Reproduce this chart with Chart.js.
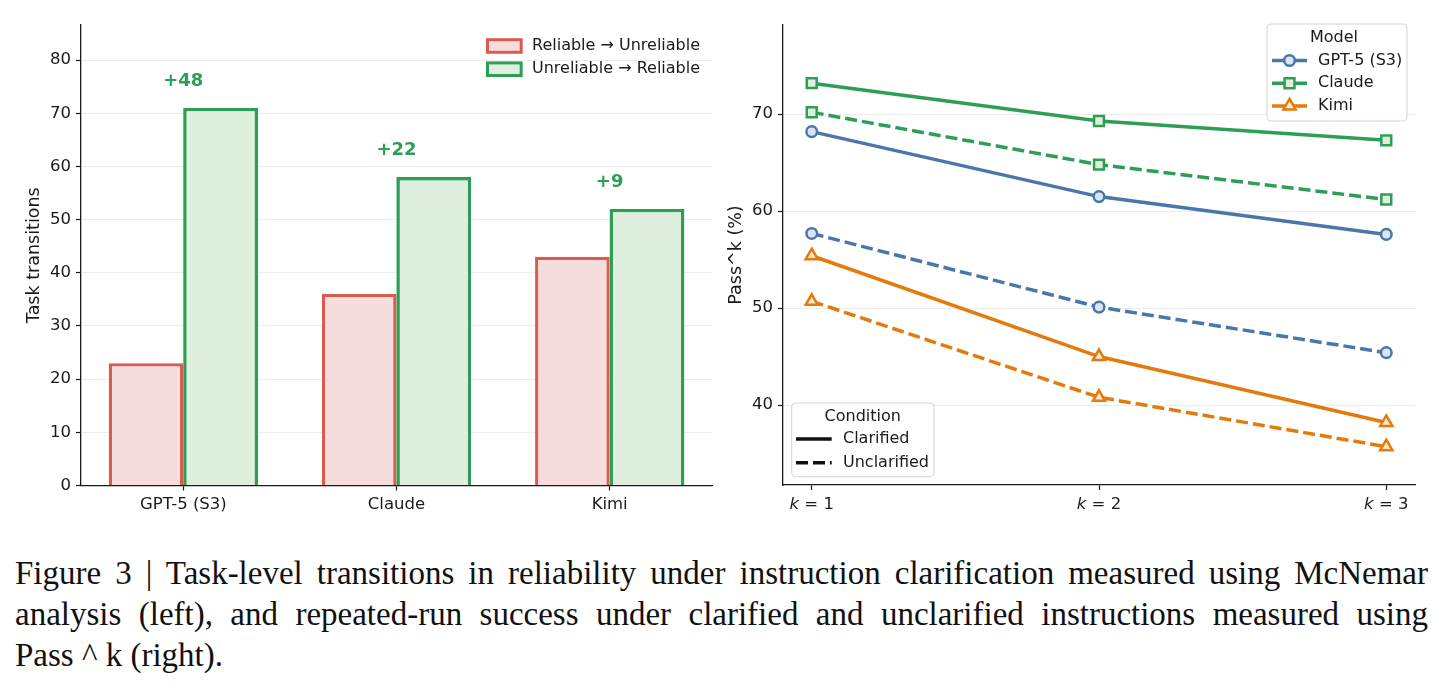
<!DOCTYPE html>
<html>
<head>
<meta charset="utf-8">
<script src="https://cdn.jsdelivr.net/npm/chart.js@4.4.0/dist/chart.umd.min.js"></script>
<style>
  body { margin: 0; background: #fff; width: 1443px; height: 688px; overflow: hidden; position: relative; }
  #leftChart { position: absolute; left: 0; top: 0; }
  #rightChart { position: absolute; left: 720px; top: 0; }
  #caption { position: absolute; left: 15px; top: 553px; width: 1413px; font-family: 'Liberation Serif', serif; font-size: 33px; line-height: 41px; color: #111; }
  #caption div { text-align: justify; text-align-last: justify; }
  #caption div.last { text-align-last: left; }
</style>
</head>
<body>
<canvas id="leftChart" width="720" height="530"></canvas>
<canvas id="rightChart" width="723" height="530"></canvas>
<div id="caption">
  <div>Figure 3 | Task-level transitions in reliability under instruction clarification measured using McNemar</div>
  <div>analysis (left), and repeated-run success under clarified and unclarified instructions measured using</div>
  <div class="last">Pass ^ k (right).</div>
</div>
<script>
/////////////////////////////// Data ///////////////////////////////

// Left panel: McNemar transitions
const categories = ['GPT-5 (S3)', 'Claude', 'Kimi'];
const reliableToUnreliable = [23, 36, 43];
const unreliableToReliable = [71, 58, 52];

// Right panel: Pass^k
const kLabels = ['1', '2', '3'];
const gptClarified = [68.2, 61.5, 57.6];
const gptUnclarified = [57.7, 50.1, 45.4];
const claudeClarified = [73.2, 69.3, 67.3];
const claudeUnclarified = [70.2, 64.8, 61.2];
const kimiClarified = [55.4, 45.0, 38.2];
const kimiUnclarified = [50.7, 40.8, 35.7];

/////////////////////////////// Style ///////////////////////////////

const FONT = '"DejaVu Sans", sans-serif';
const INK = '#1a1a1a';
const TICK = 16.5;
const RED = '#d85d4f', RED_FILL = '#f6dcdc';
const GREEN = '#2e9e57', GREEN_FILL = '#def0dd';
const BLUE = '#4a77ab', BLUE_FILL = '#dbe5f1';
const ORANGE = '#e47a0b', ORANGE_FILL = '#fce8d4';

// turn a list of values into {x, y} points at 0, 1, 2...
let series = (values) => values.map((v, i) => ({ x: i, y: v }));

// draws a marker the same way for the legend
function drawMarker(ctx, shape, x, y, r, stroke, fill) {
    ctx.save();
    ctx.beginPath();
    if (shape === 'circle') {
        ctx.arc(x, y, r, 0, Math.PI * 2);
    } else if (shape === 'rect') {
        const h = r * Math.SQRT1_2;
        ctx.rect(x - h, y - h, 2 * h, 2 * h);
    } else {
        ctx.moveTo(x, y - r);
        ctx.lineTo(x + r * 0.866, y + r / 2);
        ctx.lineTo(x - r * 0.866, y + r / 2);
        ctx.closePath();
    }
    ctx.fillStyle = fill;
    ctx.fill();
    ctx.lineWidth = 2.5;
    ctx.strokeStyle = stroke;
    ctx.setLineDash([]);
    ctx.stroke();
    ctx.restore();
}

function roundBox(ctx, x, y, w, h, r) {
    ctx.beginPath();
    ctx.roundRect(x, y, w, h, r);
    ctx.fillStyle = 'rgba(255,255,255,0.85)';
    ctx.fill();
    ctx.lineWidth = 1;
    ctx.strokeStyle = '#d4d4d4';
    ctx.stroke();
}

/////////////////////////////// Left chart ///////////////////////////////

const leftExtras = {
    id: 'leftExtras',
    afterDatasetsDraw(chart) {
        const ctx = chart.ctx;
        // green bars drawn again so their edge sits on top of the red ones
        chart.getDatasetMeta(1).controller.draw();

        const xs = chart.scales.x, ys = chart.scales.y;
        ctx.save();
        ctx.font = 'bold 18px ' + FONT;
        ctx.fillStyle = GREEN;
        ctx.textAlign = 'center';
        ctx.textBaseline = 'middle';
        categories.forEach((c, i) => {
            const gain = unreliableToReliable[i] - reliableToUnreliable[i];
            ctx.fillText('+' + gain, xs.getPixelForValue(i), ys.getPixelForValue(unreliableToReliable[i] + 5));
        });

        // legend (upper right, no frame)
        const entries = [
            { text: 'Reliable \u2192 Unreliable', stroke: RED, fill: RED_FILL },
            { text: 'Unreliable \u2192 Reliable', stroke: GREEN, fill: GREEN_FILL }
        ];
        const left = chart.chartArea.right - 226;
        entries.forEach((e, i) => {
            const cy = 46 + i * 23.2;
            ctx.fillStyle = e.fill;
            ctx.fillRect(left + 1.5, cy - 6.3, 33.7, 12.6);
            ctx.lineWidth = 3;
            ctx.strokeStyle = e.stroke;
            ctx.strokeRect(left + 1.5, cy - 6.3, 33.7, 12.6);
            ctx.font = '16px ' + FONT;
            ctx.fillStyle = INK;
            ctx.textAlign = 'left';
            ctx.fillText(e.text, left + 46, cy);
        });
        ctx.restore();
    }
};

new Chart(document.getElementById('leftChart'), {
    type: 'bar',
    data: {
        datasets: [
            { label: 'Reliable \u2192 Unreliable', data: series(reliableToUnreliable), backgroundColor: RED_FILL, borderColor: RED, borderWidth: 3.3, categoryPercentage: 0.7, barPercentage: 1 },
            { label: 'Unreliable \u2192 Reliable', data: series(unreliableToReliable), backgroundColor: GREEN_FILL, borderColor: GREEN, borderWidth: 3.3, categoryPercentage: 0.7, barPercentage: 1 }
        ]
    },
    options: {
        responsive: false,
        animation: false,
        layout: { padding: { left: 0, top: 25, right: 8, bottom: 0 } },
        plugins: { legend: { display: false }, tooltip: { enabled: false } },
        scales: {
            x: {
                type: 'linear', min: -0.48, max: 2.48, offset: false,
                ticks: { stepSize: 1, includeBounds: false, autoSkip: false, maxRotation: 0, padding: 4, color: INK, font: { family: FONT, size: TICK },
                         callback: v => categories[v] ?? '' },
                grid: { offset: false, drawOnChartArea: false, tickLength: 5, tickColor: INK, tickWidth: 1.2 },
                border: { color: INK, width: 1.3 },
                afterFit: s => { s.height = 44.5; }
            },
            y: {
                min: 0, max: 86.6,
                ticks: { stepSize: 10, includeBounds: false, padding: 5, color: INK, font: { family: FONT, size: TICK } },
                grid: { color: '#ececec', lineWidth: 1, tickLength: 5, tickColor: INK, tickWidth: 1.2 },
                border: { color: INK, width: 1.3 },
                title: { display: true, text: 'Task transitions', color: INK, font: { family: FONT, size: 17.5 }, padding: { top: 23.5, bottom: 0 } },
                afterFit: s => { s.width = 81; }
            }
        }
    },
    plugins: [leftExtras]
});

/////////////////////////////// Right chart ///////////////////////////////

let lineSet = (label, values, color, fill, shape, radius, dashed) => ({
    label: label,
    data: series(values),
    borderColor: color,
    backgroundColor: fill,
    borderWidth: 3.5,
    borderDash: dashed ? [12, 5] : [],
    pointStyle: shape,
    pointRadius: radius,
    pointBorderWidth: 2.5,
    pointBackgroundColor: fill,
    pointBorderColor: color,
    tension: 0,
    fill: false,
    clip: false
});

const modelStyles = [
    { name: 'GPT-5 (S3)', color: BLUE, fill: BLUE_FILL, shape: 'circle', r: 5.3 },
    { name: 'Claude', color: GREEN, fill: GREEN_FILL, shape: 'rect', r: 7 },
    { name: 'Kimi', color: ORANGE, fill: ORANGE_FILL, shape: 'triangle', r: 7 }
];

const rightExtras = {
    id: 'rightExtras',
    afterDraw(chart) {
        const ctx = chart.ctx;
        const xs = chart.scales.x;
        const area = chart.chartArea;
        ctx.save();
        ctx.textBaseline = 'middle';

        // x tick labels: italic k = n
        kLabels.forEach((lab, i) => {
            ctx.font = 'italic ' + TICK + 'px ' + FONT;
            const wk = ctx.measureText('k').width;
            ctx.font = TICK + 'px ' + FONT;
            const rest = ' = ' + lab;
            const wr = ctx.measureText(rest).width;
            const x0 = xs.getPixelForValue(i) - (wk + wr) / 2;
            const y = xs.top + 20;
            ctx.fillStyle = INK;
            ctx.textAlign = 'left';
            ctx.font = 'italic ' + TICK + 'px ' + FONT;
            ctx.fillText('k', x0, y);
            ctx.font = TICK + 'px ' + FONT;
            ctx.fillText(rest, x0 + wk, y);
        });

        // Model legend (upper right)
        const mx = area.right - 148, my = 24;
        roundBox(ctx, mx, my, 140, 97, 4);
        ctx.fillStyle = INK;
        ctx.font = '16px ' + FONT;
        ctx.textAlign = 'center';
        ctx.fillText('Model', mx + 67, my + 14);
        modelStyles.forEach((m, i) => {
            const cy = my + 36.5 + i * 22.7;
            ctx.beginPath();
            ctx.moveTo(mx + 5, cy);
            ctx.lineTo(mx + 40, cy);
            ctx.lineWidth = 3.5;
            ctx.strokeStyle = m.color;
            ctx.setLineDash([]);
            ctx.stroke();
            drawMarker(ctx, m.shape, mx + 22.5, cy, m.r, m.color, m.fill);
            ctx.fillStyle = INK;
            ctx.textAlign = 'left';
            ctx.fillText(m.name, mx + 51, cy);
        });

        // Condition legend (lower left)
        const cx = area.left + 8.7, cyTop = area.bottom - 82;
        roundBox(ctx, cx, cyTop, 142.3, 73.7, 4);
        ctx.fillStyle = INK;
        ctx.textAlign = 'center';
        ctx.fillText('Condition', cx + 71, cyTop + 13.7);
        ['Clarified', 'Unclarified'].forEach((t, i) => {
            const cy = cyTop + 36 + i * 23.7;
            ctx.beginPath();
            ctx.moveTo(cx + 4.3, cy);
            ctx.lineTo(cx + 40, cy);
            ctx.lineWidth = 3.5;
            ctx.strokeStyle = '#111';
            ctx.setLineDash(i === 0 ? [] : [12, 5]);
            ctx.stroke();
            ctx.setLineDash([]);
            ctx.fillStyle = INK;
            ctx.textAlign = 'left';
            ctx.fillText(t, cx + 51.3, cy);
        });
        ctx.restore();
    }
};

new Chart(document.getElementById('rightChart'), {
    type: 'line',
    data: {
        datasets: [
            lineSet('GPT-5 (S3) clarified', gptClarified, BLUE, BLUE_FILL, 'circle', 5.3, false),
            lineSet('GPT-5 (S3) unclarified', gptUnclarified, BLUE, BLUE_FILL, 'circle', 5.3, true),
            lineSet('Claude clarified', claudeClarified, GREEN, GREEN_FILL, 'rect', 7, false),
            lineSet('Claude unclarified', claudeUnclarified, GREEN, GREEN_FILL, 'rect', 7, true),
            lineSet('Kimi clarified', kimiClarified, ORANGE, ORANGE_FILL, 'triangle', 7, false),
            lineSet('Kimi unclarified', kimiUnclarified, ORANGE, ORANGE_FILL, 'triangle', 7, true)
        ]
    },
    options: {
        responsive: false,
        animation: false,
        layout: { padding: { left: 0, top: 25, right: 28, bottom: 0 } },
        plugins: { legend: { display: false }, tooltip: { enabled: false } },
        scales: {
            x: {
                type: 'linear', min: -0.1, max: 2.1, offset: false,
                ticks: { stepSize: 1, includeBounds: false, autoSkip: false, maxRotation: 0, callback: () => '' },
                grid: { offset: false, drawOnChartArea: false, tickLength: 5, tickColor: INK, tickWidth: 1.2 },
                border: { color: INK, width: 1.3 },
                afterFit: s => { s.height = 45; }
            },
            y: {
                min: 31.75, max: 79.2,
                ticks: { stepSize: 10, includeBounds: false, padding: 5, color: INK, font: { family: FONT, size: TICK } },
                grid: { color: '#ececec', lineWidth: 1, tickLength: 5, tickColor: INK, tickWidth: 1.2 },
                border: { color: INK, width: 1.3 },
                title: { display: true, text: 'Pass^k (%)', color: INK, font: { family: FONT, size: 17.5 }, padding: { top: 6, bottom: 0 } },
                afterFit: s => { s.width = 63; }
            }
        }
    },
    plugins: [rightExtras]
});
</script>
</body>
</html>
